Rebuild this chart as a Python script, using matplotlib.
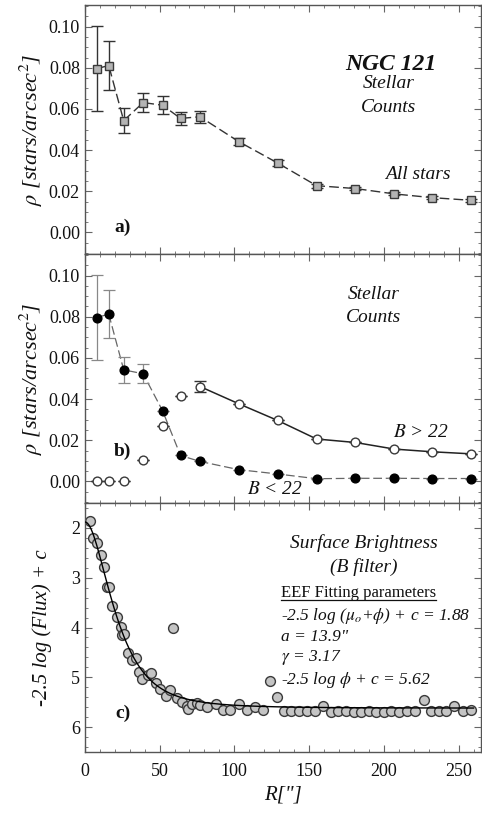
import numpy as np
import matplotlib.pyplot as plt
from matplotlib.ticker import MultipleLocator
from matplotlib.lines import Line2D

plt.rcParams['font.family'] = ['Liberation Serif', 'DejaVu Serif']
plt.rcParams['mathtext.fontset'] = 'stix'

# ---- panel a: all stars ----
r_bins = [8, 16, 26, 39, 52, 64, 77, 103, 129, 155, 181, 207, 232, 258]
rho_all = [0.0796, 0.0811, 0.0543, 0.0631, 0.0618, 0.0554, 0.0562,
           0.0441, 0.0337, 0.0227, 0.0213, 0.0187, 0.0169, 0.0156]
rho_all_err = [0.0205, 0.0117, 0.0062, 0.0048, 0.0043, 0.0030, 0.0030,
               0.0018, 0.0013, 0.0009, 0.0007, 0.0007, 0.0006, 0.0006]

# ---- panel b: bright / faint ----
rho_bright = [0.0796, 0.0813, 0.0542, 0.0523, 0.0343, 0.0126, 0.0097,
              0.0057, 0.0036, 0.0013, 0.0015, 0.0015, 0.0014, 0.0014]
rho_bright_err = [0.0205, 0.0117, 0.0062, 0.0045, 0, 0, 0, 0, 0, 0, 0, 0, 0, 0]
rho_faint = [0.0, 0.0, 0.0, 0.0104, 0.0270, 0.0413, 0.0461,
             0.0377, 0.0296, 0.0206, 0.0189, 0.0157, 0.0144, 0.0134]
rho_faint_err = [0, 0, 0, 0, 0, 0, 0.0028, 0, 0, 0, 0, 0, 0, 0]
faint_line_start = 6  # solid line starts at 7th bin

# ---- panel c: surface brightness ----
r_sb = [3.4, 5.2, 8.3, 10.5, 12.8, 15.0, 16.3, 18.3, 21.3, 24.0, 24.6,
        26.2, 29.1, 31.3, 34.2, 36.5, 38.0, 42.5, 44.0, 47.7, 50.3, 54.4,
        57.0, 59.3, 61.5, 64.9, 68.2, 69.3, 71.6, 75.0, 77.2, 81.7, 87.9,
        92.4, 97.3, 102.9, 108.5, 114.0, 119.3, 123.7, 128.6,
        133.1, 138.0, 143.2, 148.4, 153.8, 159.6, 164.5, 169.4, 174.5,
        179.7, 184.6, 189.8, 194.6, 199.8, 204.7, 210.3, 215.4, 220.8,
        226.6, 231.5, 237.1, 241.6, 247.2, 252.8, 258.0]
mag_sb = [1.87, 2.21, 2.31, 2.54, 2.78, 3.18, 3.19, 3.57, 3.78, 3.99, 4.15,
          4.14, 4.52, 4.66, 4.62, 4.89, 5.04, 4.96, 4.91, 5.12, 5.23, 5.38,
          5.26, 4.00, 5.41, 5.49, 5.58, 5.63, 5.53, 5.52, 5.56, 5.60, 5.53,
          5.66, 5.66, 5.53, 5.66, 5.60, 5.65, 5.07, 5.39,
          5.67, 5.68, 5.67, 5.68, 5.68, 5.58, 5.69, 5.68, 5.68,
          5.69, 5.69, 5.68, 5.69, 5.69, 5.68, 5.69, 5.68, 5.68,
          5.45, 5.67, 5.67, 5.67, 5.57, 5.68, 5.66]

# EEF fit parameters as printed on the chart
m_center = 1.88   # -2.5 log(mu0+phi) + c
a_core = 13.9
gamma = 3.17
m_bg = 5.62       # -2.5 log(phi) + c

TXT = '#111111'
EDGE = '#3a3a3a'

fig = plt.figure(figsize=(4.82, 8.13), dpi=100)
L, R = 0.176, 0.998
ax_a = fig.add_axes([L, 0.6876, R - L, 0.9938 - 0.6876])
ax_b = fig.add_axes([L, 0.3813, R - L, 0.6876 - 0.3813])
ax_c = fig.add_axes([L, 0.0750, R - L, 0.3813 - 0.0750])

for ax in (ax_a, ax_b, ax_c):
    ax.set_xlim(0, 265)
    ax.xaxis.set_major_locator(MultipleLocator(50))
    ax.xaxis.set_minor_locator(MultipleLocator(10))
    ax.tick_params(which='both', direction='in', top=True, right=True,
                   colors='#666666', labelcolor=TXT, labelsize=13)
    ax.tick_params(which='major', length=5, width=0.8)
    ax.tick_params(which='minor', length=2.5, width=0.6)
    ax.tick_params(axis='x', pad=8)
    for s in ax.spines.values():
        s.set_color('#555555')
        s.set_linewidth(1.0)

for ax in (ax_a, ax_b):
    ax.set_ylim(-0.0105, 0.1105)
    ax.yaxis.set_major_locator(MultipleLocator(0.02))
    ax.yaxis.set_minor_locator(MultipleLocator(0.005))
    ax.yaxis.set_major_formatter(plt.FormatStrFormatter('%.2f'))
    ax.tick_params(axis='x', labelbottom=False)
    ax.set_ylabel(r'$\rho$ [stars/arcsec$^2$]', fontsize=16, style='italic',
                  color=TXT, labelpad=3)

# panel a
ax_a.errorbar(r_bins, rho_all, yerr=rho_all_err, fmt='s', ms=5.2,
              mfc='#b4b4b4', mec=EDGE, mew=1.0, ecolor='#333333',
              elinewidth=1.0, capsize=4.5, capthick=1.0, zorder=3)
ax_a.plot(r_bins, rho_all, ls=(0, (7, 3)), color='#333333', lw=1.0, zorder=2)
ax_a.text(205, 0.0815, 'NGC 121', fontsize=17, weight='bold', style='italic',
          ha='center', va='center', color=TXT)
ax_a.text(203, 0.0722, 'Stellar', fontsize=14, style='italic',
          ha='center', va='center', color=TXT)
ax_a.text(203, 0.0605, 'Counts', fontsize=14, style='italic',
          ha='center', va='center', color=TXT)
ax_a.text(223, 0.0280, 'All stars', fontsize=14, style='italic',
          ha='center', va='center', color=TXT)
ax_a.text(25.5, 0.0024, 'a)', fontsize=14, weight='bold',
          ha='center', va='center', color=TXT)

# panel b
ax_b.plot(r_bins, rho_bright, ls=(0, (7, 3)), color='#666666', lw=0.9, zorder=2)
ax_b.errorbar(r_bins, rho_bright, yerr=rho_bright_err, fmt='o', ms=6.3,
              mfc='black', mec='black', ecolor='#888888', elinewidth=0.9,
              capsize=4.5, capthick=0.9, zorder=3)
ax_b.plot(r_bins[faint_line_start:], rho_faint[faint_line_start:], '-',
          color='#222222', lw=1.1, zorder=2)
ax_b.errorbar(r_bins, rho_faint, yerr=rho_faint_err, fmt='o', ms=6.3,
              mfc='white', mec=EDGE, mew=1.0, ecolor='#333333',
              elinewidth=1.0, capsize=4.5, capthick=1.0, zorder=3)
ax_b.text(193, 0.0906, 'Stellar', fontsize=14, style='italic',
          ha='center', va='center', color=TXT)
ax_b.text(193, 0.0795, 'Counts', fontsize=14, style='italic',
          ha='center', va='center', color=TXT)
ax_b.text(225, 0.0236, r'$B$ > 22', fontsize=14, style='italic',
          ha='center', va='center', color=TXT)
ax_b.text(127.5, -0.0040, r'$B$ < 22', fontsize=14, style='italic',
          ha='center', va='center', color=TXT)
ax_b.text(25.5, 0.0144, 'b)', fontsize=14, weight='bold',
          ha='center', va='center', color=TXT)

# panel c
phi = 10 ** (-0.4 * m_bg)
mu0 = 10 ** (-0.4 * m_center) - phi
r_fit = np.linspace(0, 260, 300)
m_fit = -2.5 * np.log10(mu0 * (1 + (r_fit / a_core) ** 2) ** (-gamma / 2) + phi)
ax_c.scatter(r_sb, mag_sb, s=50, c='#c4c4c4', edgecolors=EDGE,
             linewidths=1.0, zorder=2)
ax_c.plot(r_fit, m_fit, color='black', lw=1.0, zorder=3)
ax_c.set_ylim(6.5, 1.5)
ax_c.yaxis.set_major_locator(MultipleLocator(1))
ax_c.yaxis.set_minor_locator(MultipleLocator(0.2))
ax_c.set_ylabel('-2.5 log (Flux) + c', fontsize=15, style='italic',
                color=TXT, labelpad=14)
ax_c.set_xlabel('R["]', fontsize=15, style='italic', color=TXT, labelpad=4)

ax_c.text(186.6, 2.30, 'Surface Brightness', fontsize=14, style='italic',
          ha='center', va='center', color=TXT)
ax_c.text(186.6, 2.78, '(B filter)', fontsize=14, style='italic',
          ha='center', va='center', color=TXT)
head = ax_c.text(130.9, 3.31, 'EEF Fitting parameters', fontsize=12,
                 ha='left', va='center', color=TXT)
ax_c.text(130.9, 3.77, r'-2.5 log ($\mu_o$+$\phi$) + c = 1.88', fontsize=12.5,
          style='italic', ha='left', va='center', color=TXT)
ax_c.text(130.9, 4.19, 'a = 13.9"', fontsize=12.5, style='italic',
          ha='left', va='center', color=TXT)
ax_c.text(130.9, 4.60, r'$\gamma$ = 3.17', fontsize=12.5, style='italic',
          ha='left', va='center', color=TXT)
ax_c.text(130.9, 5.06, r'-2.5 log $\phi$ + c = 5.62', fontsize=12.5,
          style='italic', ha='left', va='center', color=TXT)
ax_c.text(25.5, 5.72, 'c)', fontsize=14, weight='bold',
          ha='center', va='center', color=TXT)

# underline the heading
fig.canvas.draw()
bb = head.get_window_extent()
fw, fh = fig.bbox.width, fig.bbox.height
fig.add_artist(Line2D([bb.x0 / fw, bb.x1 / fw], [(bb.y0 + 1) / fh] * 2,
                      transform=fig.transFigure, color=TXT, lw=0.9))

fig.savefig('out.png', dpi=100)
